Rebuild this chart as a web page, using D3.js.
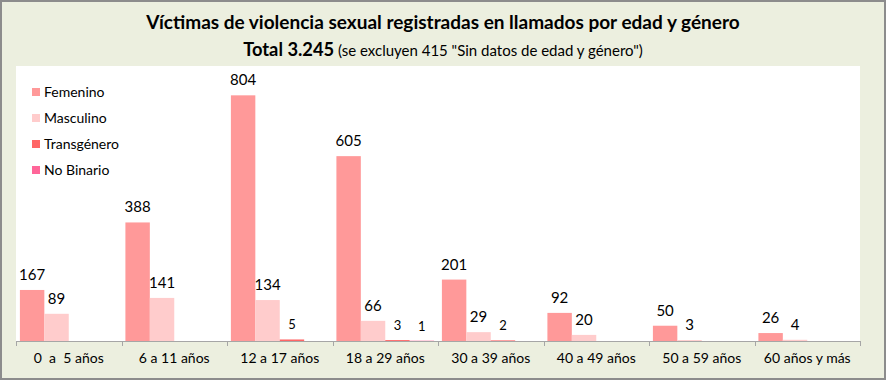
<!DOCTYPE html>
<html>
<head>
<meta charset="utf-8">
<script src="https://cdn.jsdelivr.net/npm/d3@7"></script>
<style>
  html, body { margin: 0; padding: 0; background: #fff; }
  svg { display: block; }
  text { font-family: Lato, "Open Sans", sans-serif; }
</style>
</head>
<body>
<svg id="chart" width="886" height="380"></svg>
<script>
const categories = ["0  a  5 años", "6 a 11 años", "12 a 17 años", "18 a 29 años", "30 a 39 años", "40 a 49 años", "50 a 59 años", "60 años y más"];
const seriesNames = ["Femenino", "Masculino", "Transgénero", "No Binario"];
const femenino    = [167, 388, 804, 605, 201, 92, 50, 26];
const masculino   = [89, 141, 134, 66, 29, 20, 3, 4];
const transgenero = [0, 0, 5, 3, 2, 0, 0, 0];
const noBinario   = [0, 0, 0, 1, 0, 0, 0, 0];
const seriesValues = [femenino, masculino, transgenero, noBinario];
const colors = ["#FF9999", "#FFCCCC", "#FF6666", "#FF6699"];
const titleText = "Víctimas de violencia sexual registradas en llamados por edad y género";
const subtitleBold = "Total 3.245";
const subtitleRest = " (se excluyen 415 \"Sin datos de edad y género\")";
const yMax = 900;

const W = 886, H = 380;
const svg = d3.select("#chart");

// background
svg.append("rect").attr("x", 1).attr("y", 1).attr("width", W - 2).attr("height", H - 2)
  .attr("fill", "#ECEFDF").attr("stroke", "#8C8C8C").attr("stroke-width", 2);

const plot = { left: 16, right: 860, top: 66, bottom: 341 };
svg.append("rect").attr("x", plot.left).attr("y", plot.top)
  .attr("width", plot.right - plot.left).attr("height", plot.bottom - plot.top)
  .attr("fill", "#FFFFFF");

// title
svg.append("text").attr("x", 443).attr("y", 29).attr("text-anchor", "middle")
  .attr("font-size", 19).attr("font-weight", "bold").attr("fill", "#000")
  .text(titleText);
// subtitle: bold part + regular part, laid out from the left edge of the measured total
const subG = svg.append("g");
const tBold = subG.append("text").attr("y", 56).attr("font-size", 18).attr("font-weight", "bold")
  .attr("fill", "#000").attr("textLength", 91).attr("lengthAdjust", "spacingAndGlyphs").text(subtitleBold);
const tRest = subG.append("text").attr("y", 56).attr("font-size", 15).attr("fill", "#000")
  .style("white-space", "pre").text(subtitleRest);
const restW = tRest.node().getComputedTextLength();
const totalW = 91 + restW;
const sx = 443 - totalW / 2;
tBold.attr("x", sx);
tRest.attr("x", sx + 91);

// scales
const x0 = d3.scaleBand().domain(categories).range([plot.left, plot.right]).paddingInner(0).paddingOuter(0);
const x1 = d3.scaleBand().domain(seriesNames).range([0, x0.bandwidth()]).paddingInner(0).paddingOuter(0.16);
const y = d3.scaleLinear().domain([0, yMax]).range([plot.bottom, plot.top]);

// bars
const data = [];
categories.forEach((c, i) => {
  seriesNames.forEach((s, j) => {
    data.push({ cat: c, series: s, value: seriesValues[j][i], idx: j });
  });
});

svg.append("g").selectAll("rect").data(data).join("rect")
  .attr("x", d => x0(d.cat) + x1(d.series))
  .attr("y", d => y(d.value))
  .attr("width", x1.bandwidth())
  .attr("height", d => plot.bottom - y(d.value))
  .attr("fill", d => colors[d.idx]);

// labels
svg.append("g").selectAll("text").data(data.filter(d => d.value > 0)).join("text")
  .attr("x", d => x0(d.cat) + x1(d.series) + x1.bandwidth() / 2)
  .attr("y", d => y(d.value) - 10)
  .attr("text-anchor", "middle")
  .attr("font-size", d => d.idx >= 2 ? 13 : 15)
  .attr("fill", "#000")
  .text(d => d.value);

// axis
const axis = d3.axisBottom(x0).tickSize(0).tickPadding(0);
const gAxis = svg.append("g").attr("transform", `translate(0,${plot.bottom})`).call(axis);
gAxis.select(".domain").remove();
gAxis.selectAll(".tick text").attr("font-size", 14).attr("fill", "#000")
  .attr("font-family", "Lato, 'Open Sans', sans-serif")
  .attr("y", 22).attr("dy", 0).style("white-space", "pre");
svg.append("line").attr("x1", plot.left).attr("x2", plot.right)
  .attr("y1", plot.bottom + 0.5).attr("y2", plot.bottom + 0.5)
  .attr("stroke", "#A6A6A6").attr("stroke-width", 1);
const bounds = categories.map(c => x0(c)).concat([x0.range()[1]]);
svg.append("g").selectAll("line").data(bounds).join("line")
  .attr("x1", d => Math.round(d) + 0.5).attr("x2", d => Math.round(d) + 0.5)
  .attr("y1", plot.bottom).attr("y2", plot.bottom + 5)
  .attr("stroke", "#A6A6A6").attr("stroke-width", 1);

// legend
const leg = svg.append("g");
seriesNames.forEach((s, i) => {
  const cy = 92 + i * 26;
  leg.append("rect").attr("x", 32).attr("y", cy - 4).attr("width", 8).attr("height", 8).attr("fill", colors[i]);
  leg.append("text").attr("x", 44).attr("y", cy + 5).attr("font-size", 14).attr("fill", "#000").text(s);
});
</script>
</body>
</html>
